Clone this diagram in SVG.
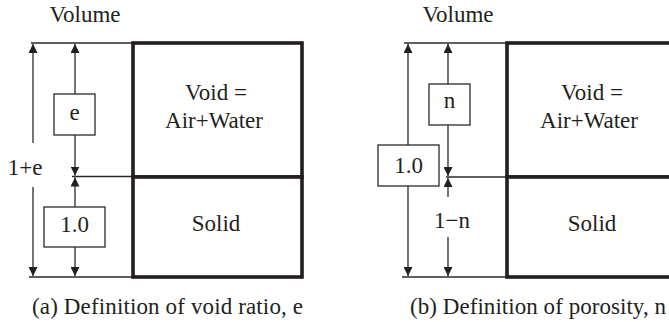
<svg xmlns="http://www.w3.org/2000/svg" width="669" height="322" viewBox="0 0 669 322">
<style>
text{font-family:"Liberation Serif","Times New Roman",serif;font-size:23px;fill:#231f20}
.c{text-anchor:middle}
.thin{stroke:#2a2a2a;stroke-width:1.3;fill:none}
.arr{stroke:#2a2a2a;stroke-width:1.3;fill:none;marker-end:url(#ah)}
.phase{stroke:#231f20;stroke-width:3.6;fill:#fff}
.lbl{stroke:#2a2a2a;stroke-width:1.3;fill:#fff}
</style>
<defs>
<marker id="ah" viewBox="0 0 10 10" refX="10" refY="5" markerWidth="9" markerHeight="9" markerUnits="userSpaceOnUse" orient="auto">
<path d="M0,0 L10,5 L0,10 z" fill="#231f20"/>
</marker>
</defs>
<rect width="669" height="322" fill="#fff"/>

<g id="connectors">
<!-- panel a -->
<line class="thin" x1="31" y1="43" x2="133" y2="43"/>
<line class="thin" x1="72" y1="176.5" x2="133" y2="176.5"/>
<line class="thin" x1="29" y1="277" x2="133" y2="277"/>
<line class="arr" x1="33" y1="143" x2="33" y2="44"/>
<line class="arr" x1="33" y1="187" x2="33" y2="276"/>
<line class="arr" x1="75" y1="94" x2="75" y2="44"/>
<line class="arr" x1="75" y1="135" x2="75" y2="175.5"/>
<line class="arr" x1="75" y1="207" x2="75" y2="177.5"/>
<line class="arr" x1="75" y1="247" x2="75" y2="276"/>
<!-- panel b -->
<line class="thin" x1="404" y1="43" x2="507" y2="43"/>
<line class="thin" x1="446" y1="177" x2="507" y2="177"/>
<line class="thin" x1="402" y1="277" x2="507" y2="277"/>
<line class="arr" x1="408" y1="145" x2="408" y2="44"/>
<line class="arr" x1="408" y1="186" x2="408" y2="276"/>
<line class="arr" x1="448" y1="84" x2="448" y2="44"/>
<line class="arr" x1="448" y1="125" x2="448" y2="176"/>
<line class="arr" x1="448" y1="197" x2="448" y2="178"/>
<line class="arr" x1="448" y1="237" x2="448" y2="276"/>
</g>

<g id="a-void">
<rect class="phase" x="133" y="43" width="169" height="134"/>
<text class="c" x="216" y="100">Void =</text>
<text class="c" x="214" y="128">Air+Water</text>
</g>
<g id="a-solid">
<rect class="phase" x="133" y="177" width="169" height="100"/>
<text class="c" x="216" y="231">Solid</text>
</g>
<g id="a-e">
<rect class="lbl" x="54" y="94" width="41" height="41"/>
<text class="c" x="74.5" y="120">e</text>
</g>
<g id="a-one">
<rect class="lbl" x="44" y="207" width="61" height="40"/>
<text class="c" x="74.5" y="232">1.0</text>
</g>
<text class="c" x="25" y="175">1+e</text>
<text class="c" x="85" y="22">Volume</text>
<text x="32" y="314" textLength="271">(a) Definition of void ratio, e</text>

<g id="b-void">
<rect class="phase" x="507" y="43" width="170" height="134"/>
<text class="c" x="592" y="100">Void =</text>
<text class="c" x="589" y="128">Air+Water</text>
</g>
<g id="b-solid">
<rect class="phase" x="507" y="177" width="170" height="100"/>
<text class="c" x="592" y="231">Solid</text>
</g>
<g id="b-n">
<rect class="lbl" x="429" y="84" width="41" height="41"/>
<text class="c" x="449.5" y="108">n</text>
</g>
<g id="b-one">
<rect class="lbl" x="378" y="145" width="61" height="41"/>
<text class="c" x="408.5" y="173">1.0</text>
</g>
<text class="c" x="452" y="228">1−n</text>
<text class="c" x="458" y="22">Volume</text>
<text x="410" y="314" textLength="256">(b) Definition of porosity, n</text>
</svg>
